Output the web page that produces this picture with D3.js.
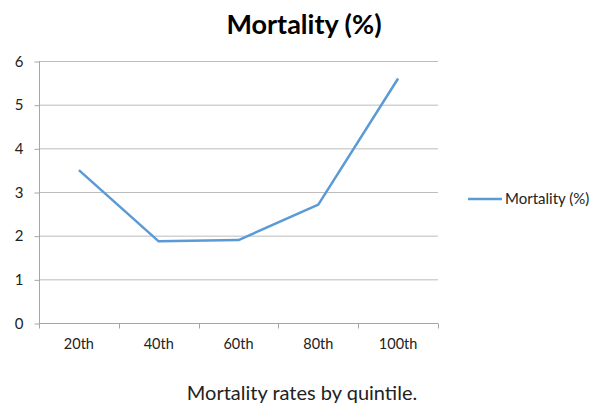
<!DOCTYPE html>
<html>
<head>
<meta charset="utf-8">
<script src="https://cdn.jsdelivr.net/npm/d3@7"></script>
<style>
  body { margin: 0; background: #fff; }
  svg { display: block; }
</style>
</head>
<body>
<script>
// datos
const categorias = ["20th", "40th", "60th", "80th", "100th"];
const mortalidad = [3.5, 1.87, 1.9, 2.71, 5.6];
const ticksY = [0, 1, 2, 3, 4, 5, 6];
const nombreSerie = "Mortality (%)";

let width = 597;
let height = 413;
let margin = { top: 61, bottom: 90, left: 39, right: 159 };

let svg = d3.select("body").append("svg")
    .attr("width", width)
    .attr("height", height);

/* Escalas */
let escalaX = d3.scaleBand()
    .domain(categorias)
    .range([margin.left, width - margin.right]);

let escalaY = d3.scaleLinear()
    .domain([0, 6])
    .range([height - margin.bottom, margin.top]);

/* rejilla */
svg.append("g")
    .selectAll("line")
    .data(ticksY.slice(1))
    .join("line")
    .attr("x1", margin.left)
    .attr("x2", width - margin.right)
    .attr("y1", d => escalaY(d) + 0.5)
    .attr("y2", d => escalaY(d) + 0.5)
    .attr("stroke", "#bdbdbd")
    .attr("stroke-width", 1);

/* Eje Y */
let ejeY = d3.axisLeft(escalaY).tickValues(ticksY).tickSize(5).tickPadding(11).tickFormat(d3.format("d"));
let gY = svg.append("g")
    .attr("transform", "translate(" + (margin.left + 0.5) + ",0.5)")
    .call(ejeY);
gY.select(".domain").attr("stroke", "#a6a6a6").attr("d", "M0," + escalaY(0) + "V" + escalaY(6));
gY.selectAll(".tick line").attr("stroke", "#a6a6a6");
gY.selectAll("text").attr("fill", "#222").style("font-family", "Lato, 'Open Sans', sans-serif").style("font-size", "15px");

/* Eje X */
let ejeX = d3.axisBottom(escalaX).tickSize(0).tickPadding(15);
let gX = svg.append("g")
    .attr("transform", "translate(0," + (escalaY(0) + 0.5) + ")")
    .call(ejeX);
gX.select(".domain").attr("stroke", "#a6a6a6").attr("d", "M" + margin.left + ",0H" + (width - margin.right));
gX.selectAll("text").attr("fill", "#222").style("font-family", "Lato, 'Open Sans', sans-serif").style("font-size", "14.5px");
// marcas entre categorias
gX.append("g")
    .selectAll("line")
    .data(categorias.map(c => escalaX(c)).concat([width - margin.right]))
    .join("line")
    .attr("x1", d => Math.round(d) + 0.5)
    .attr("x2", d => Math.round(d) + 0.5)
    .attr("y1", 0)
    .attr("y2", 5)
    .attr("stroke", "#a6a6a6");

/* Linea */
let linea = d3.line()
    .x((d, i) => escalaX(categorias[i]) + escalaX.bandwidth() / 2)
    .y(d => escalaY(d));

svg.append("path")
    .datum(mortalidad)
    .attr("d", linea)
    .attr("fill", "none")
    .attr("stroke", "#5b9bd5")
    .attr("stroke-width", 2.5)
    .attr("stroke-linejoin", "round");

/* Titulo */
svg.append("text")
    .attr("x", 304)
    .attr("y", 34)
    .attr("text-anchor", "middle")
    .style("font-family", "Lato, 'Open Sans', sans-serif")
    .style("font-weight", "bold")
    .style("font-size", "27px")
    .attr("fill", "#000")
    .text(nombreSerie);

/* Leyenda */
let leyenda = svg.append("g").attr("transform", "translate(468,199)");
leyenda.append("line")
    .attr("x1", 0).attr("x2", 34)
    .attr("stroke", "#5b9bd5").attr("stroke-width", 2.5);
leyenda.append("text")
    .attr("x", 37)
    .attr("y", 5)
    .style("font-family", "Lato, 'Open Sans', sans-serif")
    .style("font-size", "15px")
    .attr("fill", "#222")
    .text(nombreSerie);

/* Pie */
svg.append("text")
    .attr("x", 302)
    .attr("y", 400)
    .attr("text-anchor", "middle")
    .style("font-family", "Lato, 'Open Sans', sans-serif")
    .style("font-size", "20px")
    .attr("fill", "#222")
    .text("Mortality rates by quintile.");
</script>
</body>
</html>
